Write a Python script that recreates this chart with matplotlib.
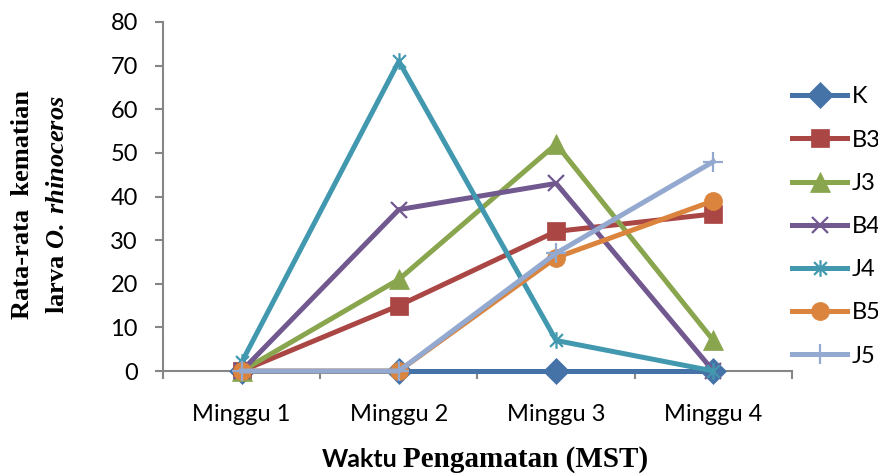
import matplotlib
matplotlib.use("Agg")
import matplotlib.pyplot as plt
from matplotlib.path import Path

# data
weeks = ["Minggu 1", "Minggu 2", "Minggu 3", "Minggu 4"]
k_vals = [0, 0, 0, 0]
b3_vals = [0, 15, 32, 36]
j3_vals = [0, 21, 52, 7]
b4_vals = [0, 37, 43, 0]
j4_vals = [2, 71, 7, 0]
b5_vals = [0, 0, 26, 39]
j5_vals = [0, 0, 27, 48]
y_ticks = [0, 10, 20, 30, 40, 50, 60, 70, 80]

plt.rcParams["font.family"] = ["Lato", "DejaVu Sans"]
plt.rcParams["mathtext.fontset"] = "custom"
plt.rcParams["mathtext.rm"] = "Liberation Serif:bold"
plt.rcParams["mathtext.bfit"] = "Liberation Serif:italic:bold"

asterisk = Path([(-1, -1), (1, 1), (-1, 1), (1, -1), (0, -1.3), (0, 1.3)],
                [Path.MOVETO, Path.LINETO, Path.MOVETO, Path.LINETO,
                 Path.MOVETO, Path.LINETO])

series = [
    ("K", k_vals, "#4572A7", "D", 13),
    ("B3", b3_vals, "#AA4643", "s", 13),
    ("J3", j3_vals, "#89A54E", "^", 14),
    ("B4", b4_vals, "#71588F", "x", 12),
    ("J4", j4_vals, "#4198AF", asterisk, 12),
    ("B5", b5_vals, "#DB843D", "o", 13),
    ("J5", j5_vals, "#93A9CF", "+", 15),
]

fig = plt.figure(figsize=(8.79, 4.74), dpi=100)
ax = fig.add_axes([163 / 879, 103 / 474, 629 / 879, 349 / 474])

x = list(range(len(weeks)))
for name, vals, color, marker, ms in series:
    open_marker = marker in ("x", "+") or marker is asterisk
    ax.plot(x, vals, color=color, lw=3.6, marker=marker, markersize=ms,
            markerfacecolor=color, markeredgecolor=color,
            markeredgewidth=1.6 if open_marker else 0.5,
            label=name, clip_on=False, zorder=3)

ax.set_xlim(-0.5, len(weeks) - 0.5)
ax.set_ylim(0, 80)
ax.set_yticks(y_ticks)
ax.set_xticks(x)
ax.set_xticklabels(weeks)
ax.set_xticks([i - 0.5 for i in range(len(weeks) + 1)], minor=True)

axis_grey = "#868686"
for side in ("top", "right"):
    ax.spines[side].set_visible(False)
for side in ("left", "bottom"):
    ax.spines[side].set_color(axis_grey)
    ax.spines[side].set_linewidth(1.5)
    ax.spines[side].set_zorder(2)

ax.tick_params(axis="y", direction="out", length=6, width=1.5, color=axis_grey,
               pad=12, labelsize=17)
ax.tick_params(axis="x", which="major", length=0, pad=24, labelsize=17)
ax.tick_params(axis="x", which="minor", direction="out", length=6, width=1.5,
               color=axis_grey)

leg = ax.legend(loc="center left", bbox_to_anchor=(792 / 879, 0.522),
                bbox_transform=fig.transFigure, frameon=False, fontsize=17,
                handlelength=2.33, handletextpad=0.2, labelspacing=0.94,
                borderpad=0, borderaxespad=0)

# y label, two lines
fig.text(23 / 879, 1 - 204 / 474, "Rata-rata  kematian", rotation=90,
         ha="center", va="center", fontsize=19, fontweight="bold",
         family="Liberation Serif")
fig.text(58 / 879, 1 - 205 / 474, r"larva $\mathbfit{O.}\,\mathbfit{rhinoceros}$",
         rotation=90, ha="center", va="center", fontsize=19,
         fontweight="bold", family="Liberation Serif")

# x label: mixed fonts as in the original
fig.text(398 / 879, 1 - 467 / 474, "Waktu", ha="right", va="baseline",
         fontsize=18, fontweight="bold")
fig.text(403 / 879, 1 - 467 / 474, "Pengamatan (MST)", ha="left",
         va="baseline", fontsize=21, fontweight="bold",
         family="Liberation Serif")

fig.savefig("out.png", dpi=100)
